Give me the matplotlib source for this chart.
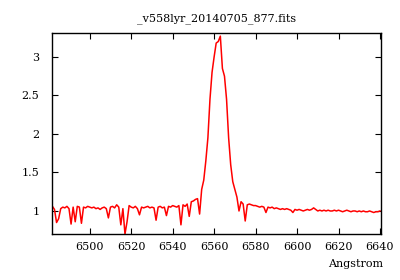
import matplotlib
matplotlib.use("Agg")
import matplotlib.pyplot as plt
import numpy as np

wavelength = np.arange(6482, 6641, 1.0)
flux = [
    1.06, 1.02, 0.85, 0.90, 1.03, 1.05, 1.04, 1.06, 1.03, 0.83,  # 6482-6491
    1.05, 0.86, 1.06, 1.05, 0.84, 1.05, 1.04, 1.06, 1.05, 1.04,  # 6492-6501
    1.05, 1.03, 1.04, 1.02, 1.04, 1.05, 1.03, 0.91, 1.05, 1.06,  # 6502-6511
    1.04, 1.08, 1.05, 0.82, 1.03, 0.70, 0.86, 1.07, 1.05, 1.04,  # 6512-6521
    1.06, 1.03, 0.95, 1.05, 1.04, 1.05, 1.06, 1.04, 1.05, 1.04,  # 6522-6531
    0.88, 1.05, 1.06, 1.04, 1.05, 0.94, 1.06, 1.05, 1.07, 1.06,  # 6532-6541
    1.05, 1.07, 0.82, 1.08, 1.06, 1.09, 0.93, 1.12, 1.13, 1.15,  # 6542-6551
    1.16, 0.96, 1.28, 1.40, 1.65, 1.95, 2.45, 2.80, 3.00, 3.18,  # 6552-6561
    3.20, 3.27, 2.85, 2.75, 2.45, 1.95, 1.60, 1.38, 1.28, 1.18,  # 6562-6571
    1.00, 1.12, 1.09, 0.87, 1.08, 1.09, 1.08, 1.07, 1.07, 1.06,  # 6572-6581
    1.05, 1.06, 1.05, 0.98, 1.05, 1.04, 1.05, 1.03, 1.04, 1.03,  # 6582-6591
    1.02, 1.03, 1.02, 1.03, 1.02, 1.01, 0.98, 1.02, 1.01, 1.02,  # 6592-6601
    1.01, 1.00, 1.01, 1.02, 1.01, 1.02, 1.04, 1.02, 1.00, 1.01,  # 6602-6611
    1.00, 1.01, 1.00, 1.01, 1.00, 1.00, 1.01, 1.00, 1.01, 1.00,  # 6612-6621
    0.99, 1.00, 1.01, 1.00, 0.99, 1.00, 1.00, 0.99, 1.00, 0.99,  # 6622-6631
    1.00, 0.99, 0.99, 1.00, 0.99, 0.98, 0.99, 0.99, 1.00,        # 6632-6640
]
x_ticks = [6500, 6520, 6540, 6560, 6580, 6600, 6620, 6640]
y_ticks = [1, 1.5, 2, 2.5, 3]
y_tick_labels = ["1", "1.5", "2", "2.5", "3"]
title = "_v558lyr_20140705_877.fits"
xlabel = "Angstrom"

plt.rcParams['font.family'] = ['DejaVu Serif']
fig = plt.figure(figsize=(4.0, 2.8), dpi=100)
ax = fig.add_axes([0.13, 0.164, 0.8225, 0.718])
ax.plot(wavelength, flux, color='#ff0000', linewidth=1.1)
ax.set_xlim(6481.8, 6640.5)
ax.set_ylim(0.70, 3.31)
ax.set_xticks(x_ticks)
ax.set_xticklabels([str(t) for t in x_ticks])
ax.set_yticks(y_ticks)
ax.set_yticklabels(y_tick_labels)
ax.tick_params(direction='in', length=4, width=0.8, top=True, right=True,
               labelsize=8, colors='black')
ax.tick_params(axis='x', pad=6)
ax.tick_params(axis='y', pad=9)
for s in ax.spines.values():
    s.set_linewidth(1.0)
fig.text(0.5412, 0.932, title, ha='center', va='center', fontsize=8)
fig.text(0.957, 0.058, xlabel, ha='right', va='center', fontsize=8)
fig.savefig("out.png", dpi=100)
